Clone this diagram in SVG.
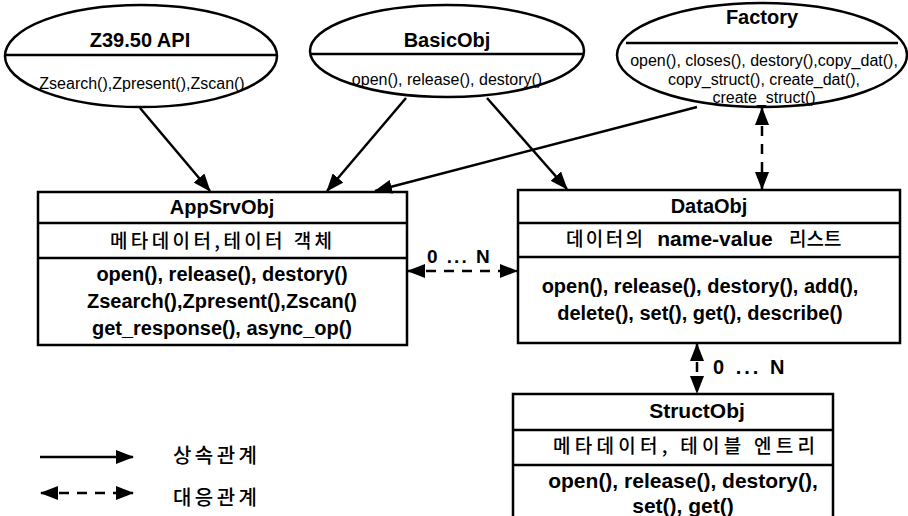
<svg xmlns="http://www.w3.org/2000/svg" width="908" height="516" viewBox="0 0 908 516">
<defs>
<style>
.sh{fill:#fff;stroke:#000;stroke-width:2.5}
.ln{stroke:#000;stroke-width:2.5;fill:none}
.t{font-family:"Liberation Sans",Arial,sans-serif;fill:#000;text-anchor:middle}
.k{font-family:"Noto Sans CJK KR","Liberation Sans",sans-serif;fill:#000;text-anchor:middle;font-weight:500}
.ti{font-size:20px;font-weight:bold}
.et{font-size:20px;font-weight:bold}
.em{font-size:16px}
.bm{font-size:20px;font-weight:bold}
.kb{font-size:19px}
.c{stroke:#000;stroke-width:2.5;fill:none}
.d{stroke-dasharray:10 8}
.lb{font-size:19px;font-weight:bold;text-anchor:start}
</style>
<marker id="ah" viewBox="0 0 18 14" refX="17" refY="7" markerWidth="18" markerHeight="14" markerUnits="userSpaceOnUse" orient="auto-start-reverse">
<path d="M0,0 L18,7 L0,14 Z" fill="#000"/>
</marker>
</defs>
<rect width="908" height="516" fill="#fff"/>

<g id="z3950">
<ellipse class="sh" cx="141" cy="56" rx="136" ry="51"/>
<line class="ln" x1="6" y1="55" x2="276" y2="55"/>
<text class="t et" x="140" y="47">Z39.50 API</text>
<text class="t em" x="142" y="89">Zsearch(),Zpresent(),Zscan()</text>
</g>

<g id="basicobj">
<ellipse class="sh" cx="447" cy="51" rx="137" ry="46"/>
<line class="ln" x1="311" y1="54" x2="583" y2="54"/>
<text class="t et" x="447" y="47">BasicObj</text>
<text class="t em" x="447" y="85">open(), release(), destory()</text>
</g>

<g id="factory">
<ellipse class="sh" cx="762" cy="55" rx="145" ry="52"/>
<line class="ln" x1="626" y1="43" x2="898" y2="43"/>
<text class="t et" x="762" y="24">Factory</text>
<text class="t em" x="764" y="66">open(), closes(), destory(),copy_dat(),</text>
<text class="t em" x="764" y="85">copy_struct(), create_dat(),</text>
<text class="t em" x="764" y="103">create_struct()</text>
</g>

<g id="appsrvobj">
<rect class="sh" x="38" y="192" width="369" height="153"/>
<line class="ln" x1="38" y1="223" x2="407" y2="223"/>
<line class="ln" x1="38" y1="258" x2="407" y2="258"/>
<text class="t ti" x="222" y="214">AppSrvObj</text>
<text class="k kb" x="221" y="248" textLength="222" lengthAdjust="spacing">메타데이터,테이터 객체</text>
<text class="t bm" x="222" y="281">open(), release(), destory()</text>
<text class="t bm" x="222" y="308">Zsearch(),Zpresent(),Zscan()</text>
<text class="t bm" x="222" y="335">get_response(), async_op()</text>
</g>

<g id="dataobj">
<rect class="sh" x="518" y="190" width="382" height="153"/>
<line class="ln" x1="518" y1="223" x2="900" y2="223"/>
<line class="ln" x1="518" y1="257" x2="900" y2="257"/>
<text class="t ti" x="709" y="213">DataObj</text>
<text class="k kb" style="text-anchor:start" x="566" y="246" textLength="77" lengthAdjust="spacing">데이터의</text>
<text class="t" style="font-size:21px;font-weight:bold" x="715" y="246">name-value</text>
<text class="k kb" style="text-anchor:start" x="789" y="246">리스트</text>
<text class="t bm" x="700" y="293">open(), release(), destory(), add(),</text>
<text class="t bm" x="700" y="320">delete(), set(), get(), describe()</text>
</g>

<g id="structobj">
<rect class="sh" x="513" y="394" width="320" height="130"/>
<line class="ln" x1="513" y1="430" x2="833" y2="430"/>
<line class="ln" x1="513" y1="465" x2="833" y2="465"/>
<text class="t ti" style="font-size:21px" x="697" y="418">StructObj</text>
<text class="k kb" x="684" y="453" textLength="262" lengthAdjust="spacing">메타데이터, 테이블 엔트리</text>
<text class="t bm" style="font-size:21px" x="683" y="488">open(), release(), destory(),</text>
<text class="t bm" style="font-size:21px" x="683" y="513">set(), get()</text>
</g>

<g id="connectors">
<line class="c" x1="140" y1="108" x2="210" y2="191" marker-end="url(#ah)"/>
<line class="c" x1="406" y1="98" x2="327" y2="191" marker-end="url(#ah)"/>
<line class="c" x1="487" y1="98" x2="567" y2="189" marker-end="url(#ah)"/>
<line class="c" x1="697" y1="107" x2="375" y2="191" marker-end="url(#ah)"/>
<line class="c d" x1="762" y1="108" x2="762" y2="189" marker-start="url(#ah)" marker-end="url(#ah)"/>
<line class="c d" x1="408" y1="271" x2="517" y2="271" marker-start="url(#ah)" marker-end="url(#ah)"/>
<line class="c d" x1="697" y1="344" x2="697" y2="393" marker-start="url(#ah)" marker-end="url(#ah)"/>
<text class="t lb" style="letter-spacing:2px" x="427" y="263">0 ... N</text>
<text class="t lb" style="font-size:20px;letter-spacing:3px" x="713" y="374">0 ... N</text>
</g>

<g id="legend">
<line class="c" x1="40" y1="457" x2="133" y2="457" marker-end="url(#ah)"/>
<line class="c d" x1="41" y1="493" x2="133" y2="493" marker-start="url(#ah)" marker-end="url(#ah)"/>
<text class="k" style="font-size:20px;text-anchor:start" x="173" y="463" textLength="84" lengthAdjust="spacing">상속관계</text>
<text class="k" style="font-size:20px;text-anchor:start" x="173" y="505" textLength="84" lengthAdjust="spacing">대응관계</text>
</g>
</svg>
